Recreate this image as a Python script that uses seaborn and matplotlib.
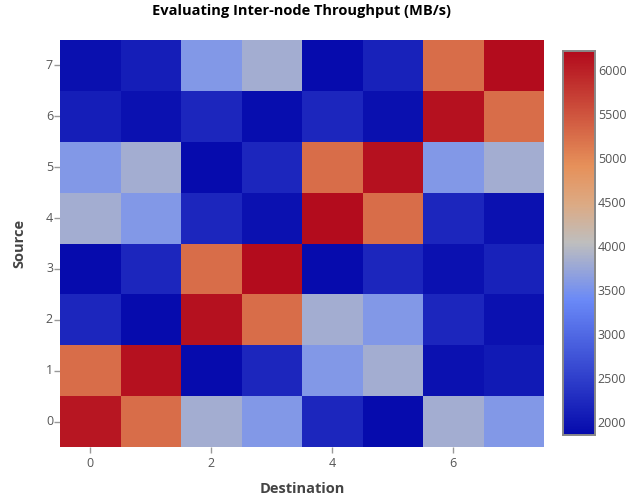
import numpy as np
import pandas as pd
import matplotlib
matplotlib.use("Agg")
import matplotlib.pyplot as plt
import seaborn as sns
from matplotlib.colors import LinearSegmentedColormap

# throughput (MB/s), rows = source 0..7, columns = destination 0..7
source = [0, 1, 2, 3, 4, 5, 6, 7]
destination = [0, 1, 2, 3, 4, 5, 6, 7]
row0 = [6100, 5250, 3830, 3560, 2200, 1880, 3830, 3560]
row1 = [5250, 6150, 1880, 2200, 3560, 3830, 1950, 2050]
row2 = [2200, 1880, 6150, 5250, 3830, 3560, 2200, 1950]
row3 = [1880, 2200, 5250, 6200, 1880, 2200, 1950, 2150]
row4 = [3830, 3560, 2200, 1950, 6200, 5250, 2200, 1950]
row5 = [3560, 3830, 1880, 2200, 5250, 6150, 3560, 3830]
row6 = [2100, 1950, 2200, 1900, 2200, 1920, 6150, 5250]
row7 = [1920, 2100, 3560, 3830, 1880, 2150, 5250, 6200]
zmin, zmax = 1850, 6220

cbar_ticks = [2000, 2500, 3000, 3500, 4000, 4500, 5000, 5500, 6000]

data = pd.DataFrame([row0, row1, row2, row3, row4, row5, row6, row7],
                    index=source, columns=destination)

# old plotly RdBu, reversed
cmap = LinearSegmentedColormap.from_list("rdbu_r", [
    (0.0, (5/255, 10/255, 172/255)),
    (0.35, (106/255, 137/255, 247/255)),
    (0.5, (190/255, 190/255, 190/255)),
    (0.6, (220/255, 170/255, 132/255)),
    (0.7, (230/255, 145/255, 90/255)),
    (1.0, (178/255, 10/255, 28/255)),
])

sns.set_style("white")
plt.rcParams['font.family'] = ['Open Sans', 'DejaVu Sans']

fig = plt.figure(figsize=(6.27, 4.98), dpi=100)
W, H = 627, 498
ax = fig.add_axes([60/W, 1 - 447/H, 484/W, 407/H])
cax = fig.add_axes([563/W, 1 - 435/H, 32/W, 384/H])

sns.heatmap(data, ax=ax, cbar_ax=cax, cmap=cmap, vmin=zmin, vmax=zmax,
            cbar_kws={'ticks': cbar_ticks})
ax.invert_yaxis()

grey = '#555555'
ax.set_xticks([0.5, 2.5, 4.5, 6.5])
ax.set_xticklabels(['0', '2', '4', '6'], rotation=0)
ax.set_yticks([i + 0.5 for i in source])
ax.set_yticklabels([str(s) for s in source], rotation=0)
ax.tick_params(axis='both', bottom=True, left=True, colors='#999999',
               labelcolor=grey, labelsize=9, length=4, width=1,
               direction='out', pad=1)
ax.tick_params(axis='x', pad=3)
ax.set_xlabel('Destination', fontsize=10.5, fontweight='bold', color='#444444', labelpad=9)
ax.set_ylabel('Source', fontsize=10.5, fontweight='bold', color='#444444', labelpad=14)
ax.set_title('Evaluating Inter-node Throughput (MB/s)', fontsize=10.5,
             fontweight='bold', color='black', pad=18)
for s in ax.spines.values():
    s.set_visible(False)

cax.tick_params(length=0, labelsize=9, labelcolor=grey, pad=2)
for s in cax.spines.values():
    s.set_visible(True)
    s.set_edgecolor('#888888')
    s.set_linewidth(1.2)

fig.savefig('out.png', dpi=100)
